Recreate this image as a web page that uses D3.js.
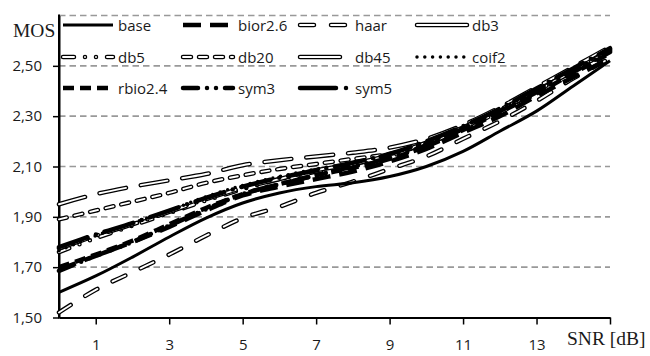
<!DOCTYPE html>
<html><head><meta charset="utf-8">
<script src="https://cdn.jsdelivr.net/npm/d3@7"></script>
<style>body{margin:0;background:#fff}</style>
</head><body><svg id="c" width="650" height="356"></svg>
<script>
// ---- data ----
const snr = [0,1,2,3,4,5,6,7,8,9,10,11,12,13,14,15];
const base   = [1.60,1.665,1.74,1.82,1.895,1.955,1.995,2.02,2.035,2.06,2.10,2.16,2.24,2.32,2.42,2.52];
const bior26 = [1.69,1.745,1.80,1.86,1.925,1.985,2.02,2.05,2.08,2.12,2.17,2.235,2.30,2.38,2.455,2.53];
const haar   = [1.52,1.61,1.68,1.75,1.825,1.895,1.94,1.995,2.04,2.09,2.14,2.21,2.28,2.36,2.45,2.53];
const db3    = [1.95,1.99,2.02,2.045,2.07,2.105,2.125,2.14,2.155,2.175,2.21,2.265,2.335,2.415,2.495,2.575];
const db5    = [1.76,1.815,1.865,1.915,1.965,2.01,2.05,2.08,2.11,2.14,2.19,2.25,2.32,2.40,2.48,2.56];
const db20   = [1.89,1.925,1.96,1.995,2.035,2.065,2.09,2.11,2.13,2.15,2.19,2.25,2.32,2.40,2.48,2.565];
const db45   = [1.775,1.825,1.87,1.92,1.97,2.015,2.05,2.085,2.11,2.145,2.195,2.255,2.325,2.40,2.48,2.56];
const coif2  = [1.765,1.825,1.875,1.925,1.98,2.025,2.06,2.09,2.115,2.15,2.195,2.255,2.325,2.405,2.485,2.565];
const rbio24 = [1.70,1.75,1.805,1.87,1.935,1.99,2.03,2.065,2.095,2.13,2.18,2.245,2.315,2.39,2.47,2.55];
const sym3   = [1.685,1.745,1.80,1.865,1.93,1.99,2.03,2.065,2.10,2.135,2.185,2.25,2.32,2.395,2.475,2.555];
const sym5   = [1.78,1.83,1.875,1.925,1.975,2.02,2.055,2.085,2.115,2.15,2.20,2.26,2.33,2.41,2.49,2.57];
const seriesNames = ["base","bior2.6","haar","db3","db5","db20","db45","coif2","rbio2.4","sym3","sym5"];
const seriesValues = [base,bior26,haar,db3,db5,db20,db45,coif2,rbio24,sym3,sym5];
const xTicks = [1,3,5,7,9,11,13,15];
const xTickLabels = ["1","3","5","7","9","11","13",""];
const yTicks = [1.5,1.7,1.9,2.1,2.3,2.5];
const gridValues = [1.7,1.9,2.1,2.3,2.5,2.7];
const yTitle = "MOS";
const xTitle = "SNR [dB]";

// ---- styles ----
const styles = {
  "base":    {kind:"black", w:3, dash:null, cap:"butt"},
  "bior2.6": {kind:"black", w:4.5, dash:"18 9", cap:"butt"},
  "haar":    {kind:"double", w:4.5, dash:"14 17"},
  "db3":     {kind:"double", w:4.5, dash:"27 15", legendDash:null},
  "db5":     {kind:"double", w:4.5, dash:"11 11 0 11 0 11"},
  "db20":    {kind:"double", w:4.5, dash:"8 8"},
  "db45":    {kind:"double", w:4.5, dash:"30 11 0 11", legendDash:"40 10 0 10"},
  "coif2":   {kind:"black", w:3.5, dash:"0 7.8", cap:"round"},
  "rbio2.4": {kind:"black", w:4.5, dash:"11 6", cap:"butt"},
  "sym3":    {kind:"black", w:4.5, dash:"15 9 0 9 0 9", cap:"round"},
  "sym5":    {kind:"black", w:4.5, dash:"30 9 0 9", legendDash:"36 10 0 10", cap:"round"}
};

const svg = d3.select("#c");
const x = d3.scaleLinear().domain([0,15]).range([59,610]);
const y = d3.scaleLinear().domain([1.5,2.7]).range([317.5,15.5]);
const loc = d3.formatLocale({decimal:",", thousands:".", grouping:[3], currency:["",""]});
const fmt = loc.format(".2f");
const sansFont = "'Open Sans', Lato, sans-serif";
const serifFont = "'Liberation Serif', 'DejaVu Serif', serif";

// grid
svg.append("g").selectAll("line").data(gridValues).join("line")
  .attr("x1", x(0)).attr("x2", x(15))
  .attr("y1", d=>y(d)).attr("y2", d=>y(d))
  .attr("stroke", "#999").attr("stroke-width", 1.6).attr("stroke-dasharray", "6.5 4");

// axes
const yAxis = svg.append("g").attr("transform", `translate(${x(0)},0)`)
  .call(d3.axisLeft(y).tickValues(yTicks).tickSize(6).tickSizeOuter(0).tickPadding(11).tickFormat(fmt));
const xAxis = svg.append("g").attr("transform", `translate(0,${y(1.5)})`)
  .call(d3.axisBottom(x).tickValues(xTicks).tickSize(7).tickSizeOuter(0).tickPadding(15)
    .tickFormat((d,i)=>xTickLabels[i]));
[yAxis,xAxis].forEach(g=>{
  g.select(".domain").attr("stroke","#000").attr("stroke-width",2);
  g.selectAll(".tick line").attr("stroke","#000").attr("stroke-width",1.5);
  g.selectAll(".tick text").attr("fill","#1a1a1a").style("font-family",sansFont).style("font-size","15px");
});
// extend y axis line to top
svg.append("line").attr("x1",x(0)).attr("x2",x(0)).attr("y1",y(2.7)-1).attr("y2",y(1.5)+1)
  .attr("stroke","#000").attr("stroke-width",2);

svg.append("text").attr("x",13).attr("y",37).text(yTitle)
  .style("font-family",serifFont).style("font-size","19.5px").attr("fill","#1a1a1a");
svg.append("text").attr("x",567).attr("y",345).text(xTitle)
  .style("font-family",serifFont).style("font-size","19.5px").attr("fill","#1a1a1a");

// lines
const line = d3.line().x((d,i)=>x(snr[i])).y(d=>y(d)).curve(d3.curveCatmullRom.alpha(0.5));
const plot = svg.append("g");
function drawPath(g, dAttr, st, legend){
  const dash = legend && st.legendDash !== undefined ? st.legendDash : st.dash;
  if(st.kind === "double"){
    g.append("path").attr("d",dAttr).attr("fill","none").attr("stroke","#000")
      .attr("stroke-width",st.w).attr("stroke-linecap","round").attr("stroke-dasharray",dash);
    g.append("path").attr("d",dAttr).attr("fill","none").attr("stroke","#fff")
      .attr("stroke-width",st.w-2.6).attr("stroke-linecap","round").attr("stroke-dasharray",dash);
  } else {
    g.append("path").attr("d",dAttr).attr("fill","none").attr("stroke","#000")
      .attr("stroke-width",st.w).attr("stroke-linecap",st.cap||"butt").attr("stroke-dasharray",dash);
  }
}
const order = [2,3,5,4,6,7,9,10,8,1,0];
order.forEach(i=>{
  drawPath(plot, line(seriesValues[i]), styles[seriesNames[i]], false);
});

// legend
const legCols = [63,183,300,417];
const legRows = [25,57,88];
const leg = svg.append("g");
seriesNames.forEach((name,i)=>{
  const c = i%4, r = Math.floor(i/4);
  const lx = legCols[c], ly = legRows[r];
  drawPath(leg, `M${lx},${ly}H${lx+50}`, styles[name], true);
  leg.append("text").attr("x",lx+55).attr("y",ly+5.5).text(name)
    .style("font-family",sansFont).style("font-size","15px").attr("fill","#1a1a1a");
});
</script>
</body></html>
